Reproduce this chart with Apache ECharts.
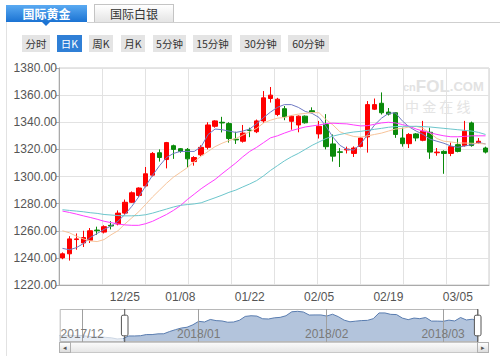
<!DOCTYPE html>
<html><head><meta charset="utf-8">
<script src="https://cdn.jsdelivr.net/npm/echarts@6/dist/echarts.min.js"></script>
<style>
html,body{margin:0;padding:0;background:#fff;}
#wrap{position:relative;width:500px;height:356px;overflow:hidden;font-family:"Noto Sans CJK SC","Liberation Sans",sans-serif;}
#chart{position:absolute;left:0;top:0;width:500px;height:356px;z-index:1;}
.ov{position:absolute;z-index:2;box-sizing:border-box;}
.tab{top:4px;height:18px;width:81px;text-align:center;line-height:18px;font-size:12px;}
.tabA{left:6px;top:5px;height:17px;background:linear-gradient(#5aaaf2,#1b73d3);color:#fff;font-weight:bold;line-height:17px;}
.tabB{left:94px;width:80px;background:linear-gradient(#ffffff,#e4e4e4);border:1px solid #c4c4c4;border-bottom:none;color:#333;}
.tri{left:42px;top:22px;width:0;height:0;border-left:4px solid transparent;border-right:4px solid transparent;border-top:4px solid #1b73d3;}
.hl{left:87px;top:22px;width:413px;height:1px;background:#cfcfcf;}
.vl{left:6px;top:22px;width:1px;height:334px;background:#e2e2e2;}
.btn{top:35px;height:17px;line-height:17px;font-size:10.5px;text-align:center;background:#e4e4e4;color:#333;}
.btnA{background:#2f7fd6;color:#fff;}
.trk{z-index:0;}
</style></head>
<body><div id="wrap">
<div class="ov trk" style="left:59px;top:342px;width:430px;height:11px;border:1px solid #c8c8c8;background:linear-gradient(#fafafa,#e6e6e6);"></div>
<div class="ov trk" style="left:59px;top:342px;width:12px;height:11px;border:1px solid #b0b0b0;background:linear-gradient(#fff,#ddd);font-size:7px;line-height:9px;text-align:center;color:#555;">◂</div>
<div class="ov trk" style="left:477px;top:342px;width:12px;height:11px;border:1px solid #b0b0b0;background:linear-gradient(#fff,#ddd);font-size:7px;line-height:9px;text-align:center;color:#555;">▸</div>
<div id="chart"></div>
<div class="ov tab tabA">国际黄金</div>
<div class="ov tri"></div>
<div class="ov tab tabB">国际白银</div>
<div class="ov hl"></div>
<div class="ov vl"></div>
<div class="ov btn" style="left:22px;width:28px;">分时</div>
<div class="ov btn btnA" style="left:57px;width:25px;">日K</div>
<div class="ov btn" style="left:89px;width:24px;">周K</div>
<div class="ov btn" style="left:121px;width:24px;">月K</div>
<div class="ov btn" style="left:153px;width:33px;">5分钟</div>
<div class="ov btn" style="left:193px;width:39px;">15分钟</div>
<div class="ov btn" style="left:240px;width:41px;">30分钟</div>
<div class="ov btn" style="left:288px;width:41px;">60分钟</div>
</div>
<script>
// ---- data ----
const dates = [
 '11/27','11/28','11/29','11/30','12/01','12/04','12/05','12/06','12/07','12/08','12/11',
 '12/12','12/13','12/14','12/15','12/18','12/19','12/20','12/21','12/22','12/25',
 '12/27','12/28','12/29','01/02','01/03','01/04','01/05','01/08','01/09','01/10',
 '01/11','01/12','01/15','01/16','01/17','01/18','01/19','01/22','01/23','01/24',
 '01/25','01/26','01/29','01/30','01/31','02/01','02/02','02/05','02/06','02/07',
 '02/08','02/09','02/12','02/13','02/14','02/15','02/16','02/19','02/20','02/21',
 '02/22','02/23','02/26','02/27','02/28','03/01','03/02','03/05','03/06','03/07',
 '03/08','03/09'];
const openP = [1258,1256,1255,1257,1254,1256,1252,1250,1251,1248,1246,
 1240,1243,1253.5,1251,1253,1260.5,1259,1264,1265,1273,
 1281,1286,1293,1301,1317.5,1312.5,1322.7,1320.5,1320,1311,
 1316,1321.5,1337,1340,1339,1327.5,1326,1334.2,1333,1341,
 1357.5,1345.7,1350,1340.7,1338,1344.5,1348.5,1331.4,1338.3,1324,
 1318.2,1319.6,1317,1322.2,1329.2,1349.6,1354,1347.5,1347,1328.4,
 1324.2,1331.4,1326.7,1332.6,1317.5,1318.5,1317,1323.5,1322.8,1339.5,
 1324.7,1321];
const closeP = [1256,1255,1257,1254,1256,1252,1250,1251,1248,1246,1241,
 1243,1254,1254,1255,1260,1260,1263,1263.5,1273,1281,
 1288,1291.5,1302,1317,1314,1325,1320,1318.5,1313,1314,
 1321.5,1338,1341,1339.5,1328,1327,1332,1334,1341,1358,
 1360,1357,1344,1344.5,1344.5,1339.6,1347.5,1337,1322,1315,
 1317.8,1320.2,1321,1328.4,1353,1353,1347,1346,1331,1324.2,
 1331,1328.4,1333.4,1318,1318,1317,1322,1318.5,1333.4,1322.8,
 1326,1318];
const lowP = [1253,1252,1252,1251,1251,1250,1248,1247,1246,1244,1239,
 1239,1238,1246,1248,1251,1257,1258,1261,1264,1272,
 1280.5,1285,1292,1300,1311,1306,1313,1317.5,1306.5,1308,
 1315,1320,1336,1332.5,1325,1324,1325,1329,1332,1339.5,
 1354.5,1344.5,1341.5,1334.5,1332.6,1339,1347,1328,1320,1311,
 1307,1317,1314.4,1321.5,1317.6,1349,1345.7,1345,1328.5,1322,
 1321,1326,1326,1313,1315.3,1302,1315,1317.8,1322,1322,
 1324,1317];
const highP = [1261,1259,1259,1258,1259,1257,1254,1253,1252,1250,1247,
 1244,1256,1258,1260,1262,1263,1264,1267,1275,1283,
 1289,1292,1307,1318,1320,1325.5,1323.5,1321,1321,1315,
 1323,1340,1341.5,1344,1340,1333,1338,1336,1342,1363,
 1366,1358,1352,1345,1345,1345,1351,1341,1346,1331,
 1321,1322,1322.2,1329,1355.6,1357.5,1362,1350.5,1347.5,1336,
 1332,1332,1341,1336,1321,1319.3,1325,1328,1341,1340.5,
 1328.4,1322];
const ma5 = ['-','-','-','-','-','-','-','-','-','-','-',
 1247,1246,1247.5,1250.5,1255,1258,1261,1263.5,1267,1272,
 1278,1285,1293,1301,1308,1314,1317,1318.5,1318.5,1318.5,
 1322,1331,1335,1334.5,1333.5,1332.5,1333.5,1335,1339,1343.5,
 1347.5,1351,1353,1353,1351,1348,1346.5,1343.5,1337,1329,
 1323,1320,1319.5,1324,1331,1338,1343,1346.5,1347,1341,
 1336.5,1333.5,1331,1327.5,1326,1324.5,1322.5,1321.5,1322.5,1323.5,
 1325,1324];
const ma10 = ['-','-','-','-','-','-','-','-','-','-','-',
 1260,1258.5,1256,1254,1252.5,1252,1253.5,1257,1260,1265,
 1269.5,1274,1279.5,1285,1290,1295,1299.5,1303,1306.5,1311,
 1315,1318.5,1322,1324.5,1326.5,1328,1330.5,1333,1335.5,1339.5,
 1341.5,1343,1343.5,1345,1346,1346.5,1347.2,1347,1342,1338,
 1333,1331,1329.5,1329,1330,1331,1332,1333.5,1335,1335.5,
 1336.5,1337,1335.5,1332,1328,1326,1325.5,1324.7,1324.7,1324.5,
 1324.3,1324];
const ma20 = ['-','-','-','-','-','-','-','-','-','-','-',
 1274.5,1273.5,1272.3,1271,1269.8,1268.5,1267,1266,1265,1264.3,
 1264,1264,1265.2,1267,1269.5,1272,1275,1278.5,1283,1287,
 1291,1294.5,1297.8,1302,1306,1310,1314.5,1318.5,1321.5,1325,
 1328.5,1330,1332,1333.8,1335.2,1336.5,1337.3,1338,1339,1339.3,
 1339,1338.8,1338,1337.3,1337.5,1338.5,1339.5,1340,1339.5,1338.3,
 1337,1335,1333.5,1332.3,1331,1330,1329.3,1329.3,1329.6,1330,
 1330,1330];
const ma30 = ['-','-','-','-','-','-','-','-','-','-','-',
 1275.5,1275,1274.5,1274,1273.3,1272.8,1272,1271.6,1271.2,1271,
 1271,1271.2,1271.8,1273,1274.5,1276,1277.5,1278.7,1279.3,1279.8,
 1280.6,1282.5,1284.3,1286.2,1288.3,1290,1292.3,1294.5,1297,1300.5,
 1304.5,1308,1311.5,1314.5,1317,1320,1323,1325.5,1328,1329.8,
 1331,1332,1332.8,1333.3,1334,1334.8,1335.5,1336.3,1336.8,1337,
 1337,1337,1336.8,1336.5,1336,1335.5,1335,1334.5,1334,1333.5,
 1332.5,1331];
const axisDates = ['12/25','01/08','01/22','02/05','02/19','03/05'];
const monthStarts = ['12/01','01/02','02/01','03/01'];
const monthLabels = ['2017/12','2018/01','2018/02','2018/03'];
const yTicks = {min:1220, max:1380, step:20};
const firstShown = '12/12';

// ---- chart ----
const startIdx = dates.indexOf(firstShown);
const kData = openP.map((o,i)=>[o, closeP[i], lowP[i], highP[i]]);
const shadowOut = closeP.map((v,i)=> i<=startIdx ? v : '-');
const shadowIn = closeP.map((v,i)=> i>=startIdx ? v : '-');
const chart = echarts.init(document.getElementById('chart'), null, {renderer:'svg'});
const FONT = 'Liberation Sans';
chart.setOption({
  animation:false,
  backgroundColor:'transparent',
  grid:[
    {left:59, right:11, top:68, bottom:71, show:true, borderColor:'#cccccc', borderWidth:1, backgroundColor:'transparent'},
    {left:59, right:22, top:309, height:33, show:false}
  ],
  graphic:[
    {type:'text', left:403, top:78, z:0, silent:true, style:{
      text:'{a|cn}{b|FOL}{c|.COM}', fill:'#e2e2e2',
      rich:{a:{fontSize:11,fontWeight:'bold',fill:'#e2e2e2',fontFamily:FONT,lineHeight:14},
            b:{fontSize:17,fontWeight:'bold',fill:'#e2e2e2',fontFamily:FONT,lineHeight:14},
            c:{fontSize:13,fontWeight:'bold',fill:'#e2e2e2',fontFamily:FONT,lineHeight:14}}}},
    {type:'text', left:405, top:99, z:0, silent:true, style:{text:'中 金 在 线', fontSize:14, lineHeight:14, fill:'#e4e4e4', fontFamily:'Noto Sans CJK SC'}}
  ],
  xAxis:[
    {type:'category', gridIndex:0, data:dates, boundaryGap:true,
     axisLine:{lineStyle:{color:'#aaaaaa'}}, axisTick:{show:false}, splitLine:{show:false},
     axisLabel:{interval:(i,v)=>axisDates.indexOf(v)>=0, color:'#555', fontSize:12, fontFamily:FONT, margin:6}},
    {type:'value', gridIndex:0, min:0, max:10, interval:1, position:'top',
     axisLine:{show:false}, axisTick:{show:false}, axisLabel:{show:false},
     splitLine:{show:true, lineStyle:{color:'#e2e2e2'}}},
    {type:'category', gridIndex:1, data:dates, boundaryGap:false, z:10,
     axisLine:{show:false}, axisTick:{show:false},
     axisLabel:{inside:true, interval:(i,v)=>monthStarts.indexOf(v)>=0,
       formatter:v=>monthLabels[monthStarts.indexOf(v)] || '', color:'#7a7a7a', fontSize:12, fontFamily:FONT, margin:2},
     splitLine:{show:true, interval:(i,v)=>monthStarts.indexOf(v)>=0, lineStyle:{color:'#a0a0a0'}}}
  ],
  yAxis:[
    {type:'value', gridIndex:0, min:yTicks.min, max:yTicks.max, interval:yTicks.step,
     axisLine:{show:true, lineStyle:{color:'#aaaaaa'}}, axisTick:{show:true, length:3, lineStyle:{color:'#aaaaaa'}},
     axisLabel:{formatter:v=>v.toFixed(2), color:'#555', fontSize:12, fontFamily:FONT, margin:2},
     splitLine:{show:true, lineStyle:{color:'#e2e2e2'}}},
    {type:'value', gridIndex:1, show:false, min:1228, max:1370}
  ],
  dataZoom:[{
    type:'slider', xAxisIndex:[0], startValue:startIdx, endValue:dates.length-1,
    left:59, right:22, top:309, height:33, showDetail:false, brushSelect:false, showDataShadow:false,
    backgroundColor:'rgba(0,0,0,0)', borderColor:'#b8b8b8', fillerColor:'rgba(0,0,0,0)',
    handleIcon:'path://M-9.35,34.56V42m0-40V9.5m-2,0h4a2,2,0,0,1,2,2v21a2,2,0,0,1-2,2h-4a2,2,0,0,1-2-2v-21A2,2,0,0,1-11.35,9.5Z',
    handleSize:'100%', handleStyle:{color:'#ffffff', borderColor:'#555555', borderWidth:1},
    moveHandleSize:10, moveHandleStyle:{color:'#dcdcdc', opacity:1, borderColor:'#aaaaaa', borderWidth:1},
    emphasis:{handleStyle:{borderColor:'#555'}, moveHandleStyle:{color:'#dcdcdc'}}
  }],
  series:[
    {type:'candlestick', name:'K', xAxisIndex:0, yAxisIndex:0, data:kData, barWidth:5,
     itemStyle:{color:'#ff0000', color0:'#0a8a0a', borderColor:'#ff0000', borderColor0:'#0a8a0a', borderWidth:1}},
    {type:'line', name:'MA5', xAxisIndex:0, yAxisIndex:0, data:ma5, showSymbol:false, symbol:'none', lineStyle:{width:1, color:'#6f7ac4'}},
    {type:'line', name:'MA10', xAxisIndex:0, yAxisIndex:0, data:ma10, showSymbol:false, symbol:'none', lineStyle:{width:1, color:'#f7c49a'}},
    {type:'line', name:'MA20', xAxisIndex:0, yAxisIndex:0, data:ma20, showSymbol:false, symbol:'none', lineStyle:{width:1, color:'#ff3cff'}},
    {type:'line', name:'MA30', xAxisIndex:0, yAxisIndex:0, data:ma30, showSymbol:false, symbol:'none', lineStyle:{width:1, color:'#6cc6cc'}},
    {type:'line', name:'range', xAxisIndex:2, yAxisIndex:1, data:shadowOut, showSymbol:false, symbol:'none', silent:true,
     lineStyle:{width:1, color:'#cdd7e4'}, areaStyle:{color:'#e8edf4', opacity:1, origin:'start'}},
    {type:'line', name:'selected', xAxisIndex:2, yAxisIndex:1, data:shadowIn, showSymbol:false, symbol:'none', silent:true,
     lineStyle:{width:1, color:'#5a7db0'}, areaStyle:{color:'#b3c4dc', opacity:1, origin:'start'}}
  ]
});
</script>
</body></html>
